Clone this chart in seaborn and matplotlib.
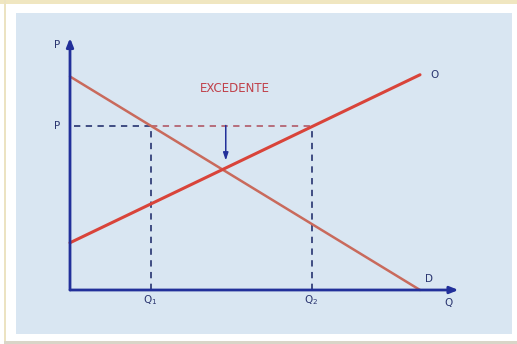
import matplotlib
matplotlib.use('Agg')
import matplotlib.pyplot as plt
import pandas as pd
import seaborn as sns
from matplotlib.patches import Rectangle

# curves (Q, P)
demand_q = [0.0, 10.0]
demand_p = [6.1, 0.0]
supply_q = [0.0, 10.0]
supply_p = [1.35, 6.15]

price = 4.7      # price above equilibrium
q1 = 2.3         # quantity demanded at that price
q2 = 6.9         # quantity supplied at that price
arrow_x = 4.45
arrow_end = 3.7

q_max = 11.1
p_max = 7.2

AXIS_BLUE = '#22309a'
DASH_BLUE = '#33407a'
SUPPLY_RED = '#d9443a'
DEMAND_RED = '#c96a5c'
DASH_RED = '#b46472'
PANEL = '#d9e6f2'

sns.set_style('white')
plt.rcParams['font.family'] = ['DejaVu Sans']

fig = plt.figure(figsize=(5.17, 3.44), dpi=100)
fig.patch.set_facecolor('white')


def frame_box(x, y, w, h, color, z):
    # box given in pixels from the top left corner
    fig.patches.append(Rectangle((x / 517, 1 - (y + h) / 344), w / 517, h / 344,
                                 transform=fig.transFigure, facecolor=color,
                                 edgecolor='none', zorder=z))


# frame: cream strip on top and left, grey line at the bottom, light blue panel
frame_box(0, 0, 517, 3.5, '#f0e6c0', -2)
frame_box(4, 0, 2, 344, '#ece3c2', -2)
frame_box(4, 341, 513, 3, '#d9d5c8', -2)
frame_box(16, 13, 496, 321, PANEL, -1)

ax = fig.add_axes([0, 0, 1, 1])
ax.set_facecolor('none')
ax.set_xlim(-2.0, 12.771)
ax.set_ylim(-1.543, 8.286)
ax.axis('off')

curves = pd.concat([
    pd.DataFrame({'Q': demand_q, 'P': demand_p, 'curva': 'D'}),
    pd.DataFrame({'Q': supply_q, 'P': supply_p, 'curva': 'O'}),
])
sns.lineplot(data=curves[curves['curva'] == 'D'], x='Q', y='P', color=DEMAND_RED,
             linewidth=1.8, ax=ax, zorder=3)
sns.lineplot(data=curves[curves['curva'] == 'O'], x='Q', y='P', color=SUPPLY_RED,
             linewidth=2.2, ax=ax, zorder=3)

# dashed guides
dash = (0, (3.5, 3))
ax.plot([0.1, q1], [price, price], color=DASH_BLUE, linewidth=1.3, linestyle=dash, zorder=2)
ax.plot([q1, q2], [price, price], color=DASH_RED, linewidth=1.3, linestyle=dash, zorder=2)
ax.plot([q1, q1], [0, price], color=DASH_BLUE, linewidth=1.3, linestyle=dash, zorder=2)
ax.plot([q2, q2], [0, price], color=DASH_BLUE, linewidth=1.3, linestyle=dash, zorder=2)

# axes with arrows
ax.annotate('', xy=(0, p_max), xytext=(0, 0),
            arrowprops=dict(arrowstyle='-|>,head_length=0.5,head_width=0.2',
                            color=AXIS_BLUE, lw=2, shrinkA=0, shrinkB=0), zorder=4)
ax.annotate('', xy=(q_max, 0), xytext=(0, 0),
            arrowprops=dict(arrowstyle='-|>,head_length=0.5,head_width=0.2',
                            color=AXIS_BLUE, lw=2, shrinkA=0, shrinkB=0), zorder=4)

# surplus arrow
ax.annotate('', xy=(arrow_x, arrow_end), xytext=(arrow_x, price),
            arrowprops=dict(arrowstyle='-|>,head_length=0.45,head_width=0.15',
                            color=AXIS_BLUE, lw=1.1, shrinkA=0, shrinkB=0), zorder=4)

lab = dict(color='#2a3570', fontsize=7.5)
ax.text(-0.37, 7.0, 'P', ha='center', va='center', **lab)
ax.text(-0.37, price, 'P', ha='center', va='center', **lab)
ax.text(q1, -0.3, r'Q$_1$', ha='center', va='center', **lab)
ax.text(q2, -0.3, r'Q$_2$', ha='center', va='center', **lab)
ax.text(10.8, -0.38, 'Q', ha='center', va='center', **lab)
ax.text(10.3, supply_p[1], 'O', ha='left', va='center', **lab)
ax.text(10.25, 0.3, 'D', ha='center', va='center', **lab)
ax.text(4.7, 5.77, 'EXCEDENTE', ha='center', va='center', color='#c0404a', fontsize=8.5)

fig.savefig('out.png', dpi=100)
